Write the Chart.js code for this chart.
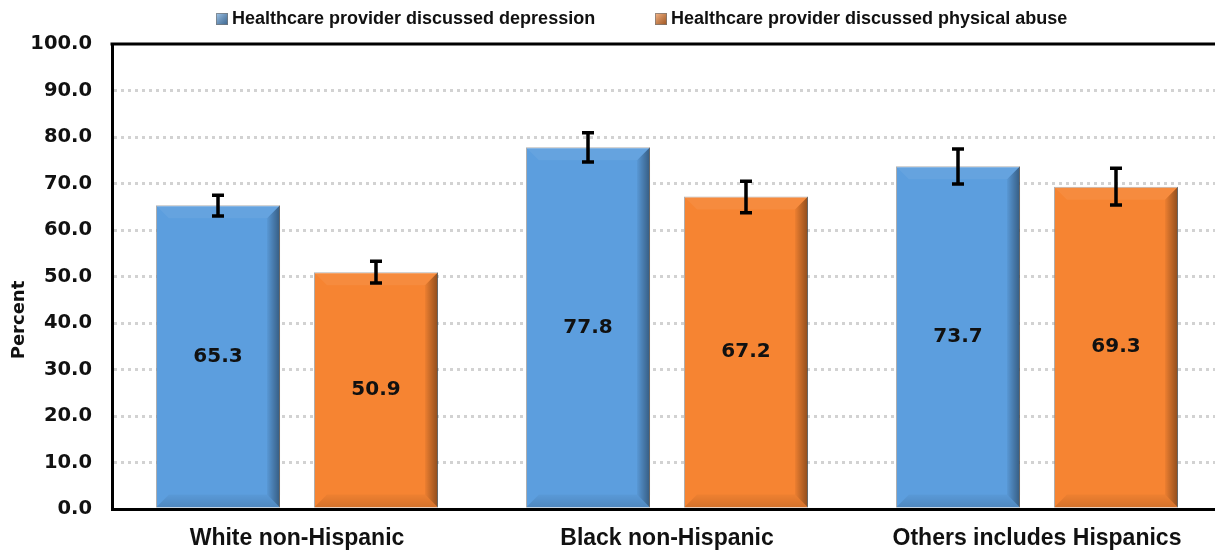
<!DOCTYPE html>
<html>
<head>
<meta charset="utf-8">
<script src="https://cdn.jsdelivr.net/npm/chart.js@4/dist/chart.umd.min.js"></script>
<style>
html,body{margin:0;padding:0;background:#fff;overflow:hidden;width:1215px;height:553px;}
canvas{display:block;}
</style>
</head>
<body>
<canvas id="c" width="1224" height="553"></canvas>
<script>
const categories = ['White non-Hispanic', 'Black non-Hispanic', 'Others includes Hispanics'];
const seriesNames = ['Healthcare provider discussed depression', 'Healthcare provider discussed physical abuse'];
const depression = [65.3, 77.8, 73.7];
const physicalAbuse = [50.9, 67.2, 69.3];
const depressionLow = [63.0, 74.6, 69.9];
const depressionHigh = [67.5, 80.9, 77.4];
const abuseLow = [48.6, 63.7, 65.4];
const abuseHigh = [53.3, 70.5, 73.3];
const yMin = 0, yMax = 100, yStep = 10;

const BLUE = 'rgb(92,158,222)';
const ORANGE = 'rgb(246,132,50)';
const FAMILY = '"DejaVu Sans", sans-serif';
const LIB = '"Liberation Sans", Arial, sans-serif';

const errorData = [[depressionLow, depressionHigh], [abuseLow, abuseHigh]];

const bevelPlugin = {
  id: 'bevel',
  afterDatasetsDraw(chart) {
    const ctx = chart.ctx;
    chart.data.datasets.forEach((ds, di) => {
      chart.getDatasetMeta(di).data.forEach(bar => {
        const L = bar.x - bar.width / 2, R = bar.x + bar.width / 2;
        const T = bar.y, B = bar.base;
        const b = 13;
        ctx.save();
        ctx.beginPath();
        ctx.moveTo(L, T); ctx.lineTo(R, T); ctx.lineTo(R - b, T + b); ctx.lineTo(L + b, T + b); ctx.closePath();
        ctx.fillStyle = 'rgba(255,255,255,0.06)'; ctx.fill();
        const g = ctx.createLinearGradient(R - b, 0, R, 0);
        g.addColorStop(0, 'rgba(0,0,0,0.04)');
        g.addColorStop(1, 'rgba(0,0,0,0.42)');
        ctx.beginPath();
        ctx.moveTo(R, T); ctx.lineTo(R, B); ctx.lineTo(R - b, B - b); ctx.lineTo(R - b, T + b); ctx.closePath();
        ctx.fillStyle = g; ctx.fill();
        const gb = ctx.createLinearGradient(0, B - b, 0, B);
        gb.addColorStop(0, 'rgba(0,0,0,0.03)');
        gb.addColorStop(1, 'rgba(0,0,0,0.14)');
        ctx.beginPath();
        ctx.moveTo(L, B); ctx.lineTo(R, B); ctx.lineTo(R - b, B - b); ctx.lineTo(L + b, B - b); ctx.closePath();
        ctx.fillStyle = gb; ctx.fill();
        ctx.restore();
      });
    });
  }
};

const errorBarPlugin = {
  id: 'errbars',
  afterDatasetsDraw(chart) {
    const ctx = chart.ctx;
    const ys = chart.scales.y;
    chart.data.datasets.forEach((ds, di) => {
      const [lo, hi] = errorData[di];
      chart.getDatasetMeta(di).data.forEach((bar, i) => {
        const x = bar.x;
        const y1 = ys.getPixelForValue(lo[i]);
        const y2 = ys.getPixelForValue(hi[i]);
        ctx.save();
        ctx.strokeStyle = '#000';
        ctx.lineWidth = 3.5;
        ctx.beginPath();
        ctx.moveTo(x, y1); ctx.lineTo(x, y2);
        ctx.moveTo(x - 6, y1); ctx.lineTo(x + 6, y1);
        ctx.moveTo(x - 6, y2); ctx.lineTo(x + 6, y2);
        ctx.stroke();
        ctx.restore();
      });
    });
  }
};

const labelPlugin = {
  id: 'vlabels',
  afterDatasetsDraw(chart) {
    const ctx = chart.ctx;
    chart.data.datasets.forEach((ds, di) => {
      chart.getDatasetMeta(di).data.forEach((bar, i) => {
        ctx.save();
        ctx.font = 'bold 20px ' + FAMILY;
        ctx.fillStyle = '#111';
        ctx.textAlign = 'center';
        ctx.textBaseline = 'middle';
        ctx.fillText(ds.data[i].toFixed(1), bar.x, (bar.y + bar.base) / 2);
        ctx.restore();
      });
    });
  }
};

const framePlugin = {
  id: 'frame',
  afterDraw(chart) {
    const ctx = chart.ctx;
    const a = chart.chartArea;
    ctx.save();
    ctx.strokeStyle = '#000';
    ctx.lineWidth = 3;
    ctx.beginPath();
    ctx.moveTo(a.left - 1.5, a.top); ctx.lineTo(a.right + 5, a.top);
    ctx.stroke();
    ctx.translate(19, 320);
    ctx.rotate(-Math.PI / 2);
    ctx.font = 'bold 18px ' + FAMILY;
    ctx.fillStyle = '#111';
    ctx.textAlign = 'center';
    ctx.textBaseline = 'middle';
    ctx.fillText('Percent', 0, 0);
    ctx.restore();
    const items = [[216, BLUE], [655, ORANGE]];
    chart.data.datasets.forEach((ds, di) => {
      const [x, col] = items[di];
      ctx.save();
      const g = ctx.createLinearGradient(x, 13, x + 12, 25);
      g.addColorStop(0, 'rgba(255,255,255,0.45)');
      g.addColorStop(1, 'rgba(0,0,0,0.35)');
      ctx.fillStyle = col;
      ctx.fillRect(x, 13, 12, 12);
      ctx.fillStyle = g;
      ctx.fillRect(x, 13, 12, 12);
      ctx.strokeStyle = 'rgba(120,120,120,0.7)';
      ctx.lineWidth = 1;
      ctx.strokeRect(x + 0.5, 13.5, 11, 11);
      ctx.font = 'bold 18px ' + LIB;
      ctx.fillStyle = '#111';
      ctx.textAlign = 'left';
      ctx.textBaseline = 'middle';
      ctx.fillText(ds.label, x + 16, 19.5);
      ctx.restore();
    });
  }
};

const chart = new Chart(document.getElementById('c'), {
  type: 'bar',
  data: {
    labels: categories,
    datasets: [
      { label: seriesNames[0], data: depression, backgroundColor: BLUE, borderColor: 'rgba(140,140,140,0.7)', borderWidth: 1 },
      { label: seriesNames[1], data: physicalAbuse, backgroundColor: ORANGE, borderColor: 'rgba(140,140,140,0.7)', borderWidth: 1 }
    ]
  },
  plugins: [bevelPlugin, errorBarPlugin, labelPlugin, framePlugin],
  options: {
    responsive: false,
    animation: false,
    devicePixelRatio: 1,
    layout: { padding: { top: 44, right: 2, left: 0, bottom: 0 } },
    datasets: { bar: { categoryPercentage: 0.854, barPercentage: 0.785 } },
    plugins: { legend: { display: false }, tooltip: { enabled: false } },
    scales: {
      x: {
        afterFit(s) { s.height = 44; },
        grid: { display: false },
        border: { color: '#000', width: 3 },
        ticks: { color: '#111', padding: 8, font: { family: LIB, weight: 'bold', size: 23 } }
      },
      y: {
        min: yMin, max: yMax,
        afterFit(s) { s.width = 112; },
        border: { color: '#000', width: 3, dash: [3, 4] },
        grid: {
          drawTicks: false,
          lineWidth: 3,
          color: c => (c.tick && (c.tick.value === yMin || c.tick.value === yMax)) ? 'rgba(0,0,0,0)' : '#D2D2D2'
        },
        ticks: {
          stepSize: yStep,
          padding: 20,
          color: '#111',
          font: { family: FAMILY, weight: 'bold', size: 19.5 },
          callback: v => Number(v).toFixed(1)
        }
      }
    }
  }
});

if (document.fonts && document.fonts.load) {
  Promise.all([
    document.fonts.load('bold 20px "DejaVu Sans"'),
    document.fonts.load('bold 18px "Liberation Sans"')
  ]).then(() => chart.update()).catch(() => {});
}
</script>
</body>
</html>
